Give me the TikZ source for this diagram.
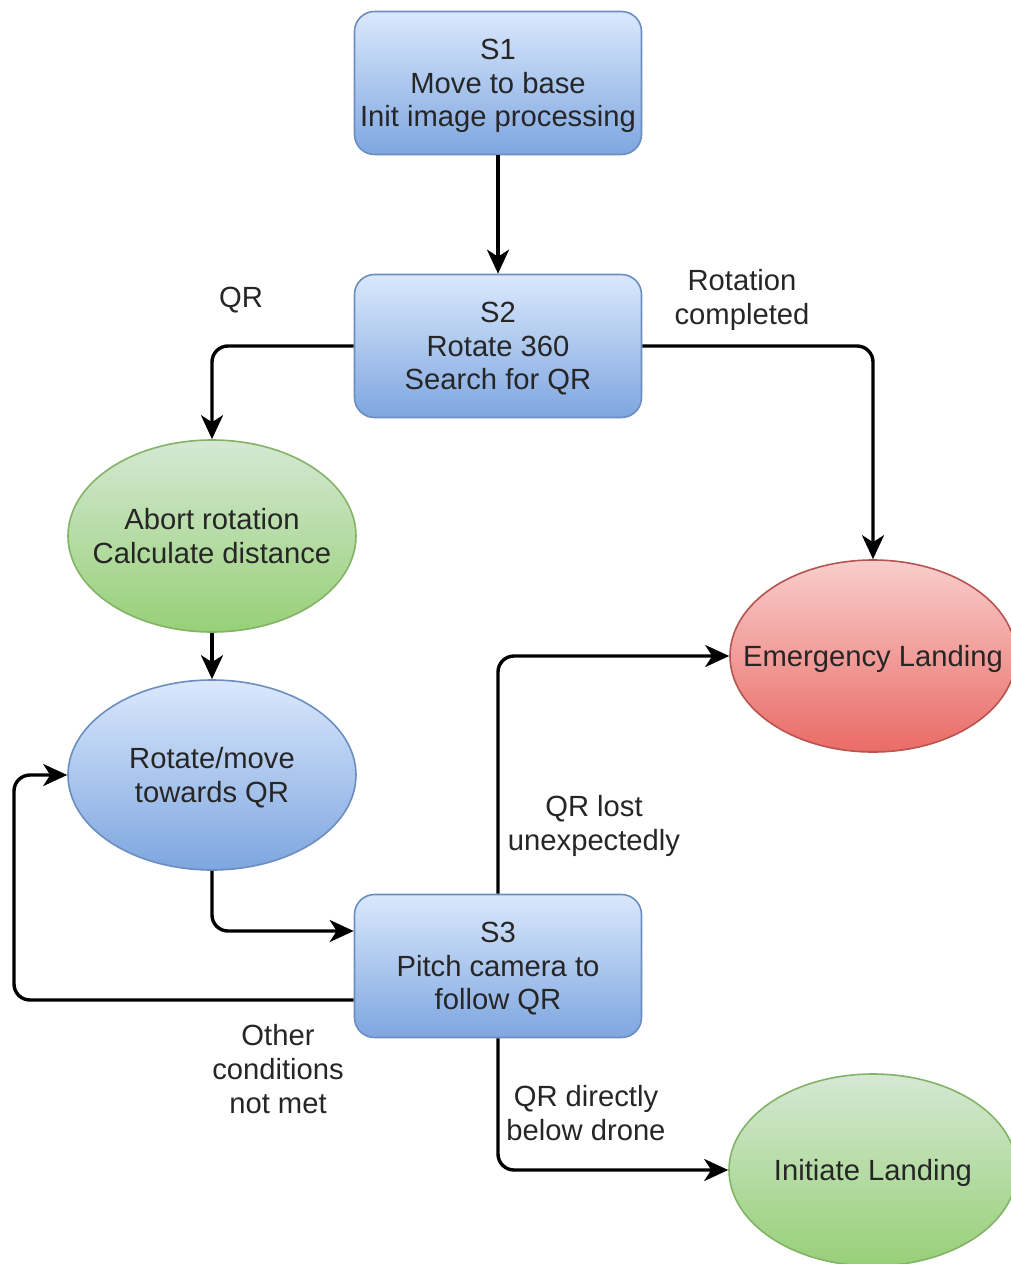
\documentclass[tikz,border=0pt]{standalone}
\usepackage{fontspec}
\setmainfont{Liberation Sans}
\usetikzlibrary{shapes.geometric}
\usetikzlibrary{arrows.meta}

\definecolor{boxtop}{HTML}{DAE8FC}
\definecolor{boxbot}{HTML}{7EA6E0}
\definecolor{boxline}{HTML}{6C8EBF}
\definecolor{oktop}{HTML}{D5E8D4}
\definecolor{okbot}{HTML}{97D077}
\definecolor{okline}{HTML}{82B366}
\definecolor{badtop}{HTML}{F8CECC}
\definecolor{badbot}{HTML}{EA6B66}
\definecolor{badline}{HTML}{B85450}

\begin{document}
\begin{tikzpicture}
[x=0.5pt,y=-0.5pt,%
  every node/.style={align=center,text=black!85,font=\fontsize{14.6}{16.8}\selectfont},%
  state/.style={rectangle,rounded corners=10pt,draw=boxline,thick,text depth=0pt,
    top color=boxtop,bottom color=boxbot,minimum width=143.5pt,minimum height=71.5pt,inner sep=0pt},%
  okstate/.style={ellipse,draw=okline,thick,top color=oktop,bottom color=okbot,text depth=0pt,
    minimum width=144pt,minimum height=96pt,inner xsep=-20pt,inner ysep=0pt},%
  movestate/.style={ellipse,draw=boxline,thick,top color=boxtop,bottom color=boxbot,text depth=0pt,
    minimum width=144pt,minimum height=95pt,inner xsep=-20pt,inner ysep=0pt},%
  badstate/.style={ellipse,draw=badline,thick,top color=badtop,bottom color=badbot,text depth=0pt,
    minimum width=143pt,minimum height=96pt,inner xsep=-20pt,inner ysep=0pt},%
  flow/.style={line width=1.7pt,rounded corners=8pt,-{Stealth[length=12pt,width=11pt,inset=3.5pt]}}]
\useasboundingbox (0,0) rectangle (1011,1264);
\fill[white] (0,0) rectangle (1011,1264);

% states
\node[state] (s1) at (498,83) {S1\\Move to base\\Init image processing};
\node[state] (s2) at (498,346) {S2\\Rotate 360\\Search for QR};
\node[okstate] (abort) at (212,536) {Abort rotation\\Calculate distance};
\node[movestate] (rot) at (212,775) {Rotate/move\\towards QR};
\node[state] (s3) at (498,966) {S3\\Pitch camera to\\follow QR};
\node[badstate] (emerg) at (873,656) {Emergency Landing};
\node[okstate] (init) at (873,1170) {Initiate Landing};
\coordinate (back) at (14,1000);

% transitions
\draw[flow] (s1) -- (s2);
\draw[flow] (s2.west) -| (abort.north);
\draw[flow] (s2.east) -| (emerg.north);
\draw[flow] (abort) -- (rot);
\draw[flow] (rot.south) |- ([yshift=17.5pt]s3.west);
\draw[flow] ([yshift=-17pt]s3.west) -- (back) |- (rot.west);
\draw[flow] (s3.north) |- (emerg.west);
\draw[flow] (s3.south) |- (init.west);

% labels
\node (lqr) at (241,300) {QR};
\node (ldone) at (742,300) {Rotation\\completed};
\node (llost) at (594,826) {QR lost\\unexpectedly};
\node (lother) at (278,1069) {Other\\conditions\\not met};
\node (lbelow) at (586,1113) {QR directly\\below drone};
\end{tikzpicture}
\end{document}
